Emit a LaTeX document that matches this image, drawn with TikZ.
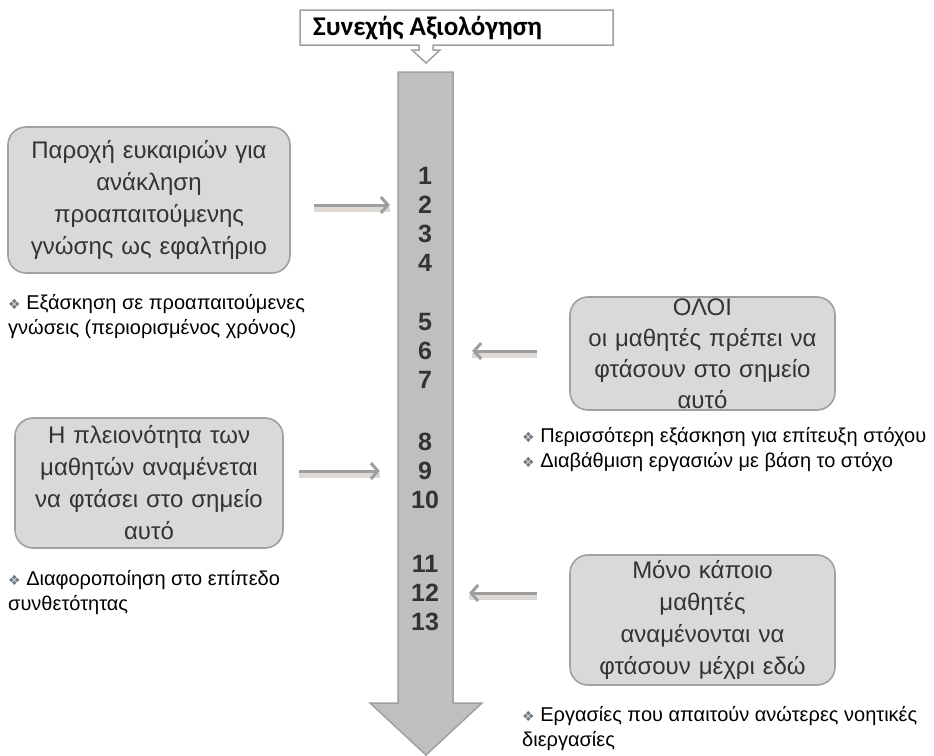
\documentclass[tikz,border=0pt]{standalone}
\usepackage{fontspec}
\setmainfont{Liberation Sans}
\newfontfamily\symfont{DejaVu Sans}
\newfontfamily\titlefont{Carlito}
\usepackage{xcolor}
\definecolor{boxfill}{RGB}{217,217,217}
\definecolor{boxline}{RGB}{160,160,160}
\definecolor{shaftfill}{RGB}{191,191,191}
\definecolor{linkgray}{RGB}{158,158,158}
\definecolor{textgray}{RGB}{51,51,51}
\definecolor{bulgray}{RGB}{110,120,130}
\usetikzlibrary{positioning,arrows.meta}
\newcommand{\bul}{{\symfont\color{bulgray}\fontsize{14}{14}\selectfont ❖}\ }

\begin{document}
\begin{tikzpicture}[x=1pt,y=-1pt,
      goal/.style={draw=boxline,line width=1.6pt,fill=boxfill,rounded corners=18pt,
        align=center,text=textgray,inner sep=0pt,font=\fontsize{24}{32}\selectfont},
      note/.style={anchor=north west,align=left,inner sep=0pt,font=\fontsize{20}{25.5}\selectfont},
      num/.style={inner sep=0pt,text=textgray,font=\fontsize{25}{25}\selectfont\bfseries},
      link/.style={-{Straight Barb[length=7pt,width=16pt]},linkgray,line width=3pt,
        preaction={draw=brown!25!gray!30,line width=5pt,-,transform canvas={yshift=-4pt}}}]
    \useasboundingbox (0,0) rectangle (934,755);
    % title callout
    \draw[boxline,line width=1.5pt,fill=white] (300,10) -- (613,10) -- (613,45) -- (433,45)
      -- (433,50) -- (440,50) -- (426,63) -- (412,50) -- (419,50) -- (419,45) -- (300,45) -- cycle;
    \node[anchor=west,inner sep=0pt,font=\titlefont\fontsize{27}{27}\selectfont\bfseries]
      (title) at (313,28) {Συνεχής Αξιολόγηση};
    % main arrow
    \draw[boxline,line width=1.5pt,fill=shaftfill] (398,72) -- (453,72) -- (453,703) -- (482,703)
      -- (426,755) -- (370,703) -- (398,703) -- cycle;
    % levels
    \foreach \k/\y in {1/176,2/205,3/234,4/263,5/322,6/351,7/380,8/442,9/471,10/500,11/564,12/593,13/622}
      \node[num] (n\k) at (425,\y) {\k};
    % goal boxes
    \node[goal,minimum width=282pt,minimum height=146pt,text width=270pt] (recall) at (149,200)
      {Παροχή ευκαιριών για\\ανάκληση\\προαπαιτούμενης\\γνώσης ως εφαλτήριο};
    \node[goal,minimum width=265pt,minimum height=113pt,text width=255pt,inner ysep=-10pt,
      font=\fontsize{24}{31}\selectfont] (all) at (702.5,353.5)
      {ΟΛΟΙ\\οι μαθητές πρέπει να\\φτάσουν στο σημείο\\αυτό};
    \node[goal,minimum width=268pt,minimum height=130pt,text width=255pt] (most) at (149,483)
      {Η πλειονότητα των\\μαθητών αναμένεται\\να φτάσει στο σημείο\\αυτό};
    \node[goal,minimum width=265pt,minimum height=130pt,text width=255pt] (some) at (702.5,620)
      {Μόνο κάποιο\\μαθητές\\αναμένονται να\\φτάσουν μέχρι εδώ};
    % connectors
    \draw[link,shorten <=23pt,shorten >=28pt] (recall.east |- n2) -- (n2.west);
    \draw[link,shorten <=32pt,shorten >=40pt] (all.west |- n6) -- (n6.east);
    \draw[link,shorten <=15pt,shorten >=38pt] (most.east |- n9) -- (n9.west);
    \draw[link,shorten <=32pt,shorten >=30pt] (some.west |- n12) -- (n12.east);
    % notes
    \node[note] (note1) at (8,294) {\bul Εξάσκηση σε προαπαιτούμενες\\γνώσεις (περιορισμένος χρόνος)};
    \node[note] (note2) at (522,427) {\bul Περισσότερη εξάσκηση για επίτευξη στόχου\\\bul Διαβάθμιση εργασιών με βάση το στόχο};
    \node[note] (note3) at (8,570) {\bul Διαφοροποίηση στο επίπεδο\\συνθετότητας};
    \node[note] (note4) at (522,706) {\bul Εργασίες που απαιτούν ανώτερες νοητικές\\διεργασίες};
  \end{tikzpicture}
\end{document}
